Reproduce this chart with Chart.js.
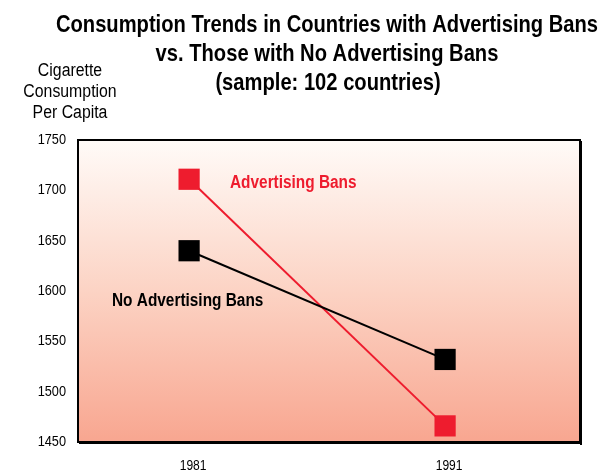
<!DOCTYPE html>
<html>
<head>
<meta charset="utf-8">
<script src="https://cdn.jsdelivr.net/npm/chart.js@4.4.1/dist/chart.umd.min.js"></script>
<style>
  html, body { margin: 0; padding: 0; background: #fff; }
  #wrap { width: 604px; height: 472px; }
</style>
</head>
<body>
<div id="wrap"><canvas id="consumptionChart" width="604" height="472"></canvas></div>
<script>
// --- data ---
const years = [1981, 1991];
const adBans = [1711, 1466];
const noAdBans = [1640, 1532];
const yTicks = [1450, 1500, 1550, 1600, 1650, 1700, 1750];

const fam = "'Liberation Sans', Arial, sans-serif";

// draws text squeezed horizontally (no condensed font installed)
function narrowText(ctx, text, x, y, font, align, sx) {
  ctx.save();
  ctx.font = font;
  ctx.textBaseline = "middle";
  ctx.textAlign = "left";
  const w = ctx.measureText(text).width * sx;
  let left = x;
  if (align === "center") left = x - w / 2;
  else if (align === "right") left = x - w;
  ctx.translate(left, y);
  ctx.scale(sx, 1);
  ctx.fillText(text, 0, 0);
  ctx.restore();
}

const plotBox = {
  id: "plotBox",
  beforeDatasetsDraw(chart) {
    const { ctx, chartArea: a } = chart;
    const g = ctx.createLinearGradient(0, a.top, 0, a.bottom);
    g.addColorStop(0, "#fffbf8");
    g.addColorStop(0.5, "#fcd3c4");
    g.addColorStop(1, "#f8a690");
    ctx.save();
    ctx.fillStyle = g;
    ctx.fillRect(a.left, a.top, a.right - a.left, a.bottom - a.top);
    // drop shadow on right / bottom
    ctx.fillStyle = "#000";
    ctx.fillRect(a.right, a.top + 1, 2, a.bottom - a.top + 2);
    ctx.fillRect(a.left + 1, a.bottom, a.right - a.left + 1, 2);
    ctx.strokeStyle = "#000";
    ctx.lineWidth = 2;
    ctx.strokeRect(a.left, a.top, a.right - a.left, a.bottom - a.top);
    ctx.restore();
  },
  afterDraw(chart) {
    const { ctx } = chart;
    const xs = chart.scales.x, ys = chart.scales.y;
    ctx.save();
    ctx.fillStyle = "#000";

    // tick labels, positioned by the chart's scales
    ys.ticks.forEach((t) => {
      narrowText(ctx, String(t.value), 66, ys.getPixelForValue(t.value), "15px " + fam, "right", 0.85);
    });
    xs.ticks.forEach((t) => {
      narrowText(ctx, String(t.value), xs.getPixelForValue(t.value) + 4, 466, "14px " + fam, "center", 0.86);
    });

    // title
    const tf = "bold 24px " + fam;
    narrowText(ctx, "Consumption Trends in Countries with Advertising Bans", 327, 25, tf, "center", 0.84);
    narrowText(ctx, "vs. Those with No Advertising Bans", 327, 54, tf, "center", 0.84);
    narrowText(ctx, "(sample: 102 countries)", 328, 83, tf, "center", 0.84);

    // y axis caption
    const cf = "18px " + fam;
    narrowText(ctx, "Cigarette", 70, 71, cf, "center", 0.88);
    narrowText(ctx, "Consumption", 70, 92, cf, "center", 0.88);
    narrowText(ctx, "Per Capita", 70, 113, cf, "center", 0.88);

    // series labels
    const lf = "bold 18px " + fam;
    ctx.fillStyle = "#ee1c2e";
    narrowText(ctx, "Advertising Bans", 230, 183, lf, "left", 0.855);
    ctx.fillStyle = "#000";
    narrowText(ctx, "No Advertising Bans", 112, 301, lf, "left", 0.855);
    ctx.restore();
  }
};

new Chart(document.getElementById("consumptionChart"), {
  type: "line",
  data: {
    datasets: [
      {
        label: "No Advertising Bans",
        data: years.map((y, i) => ({ x: y, y: noAdBans[i] })),
        borderColor: "#000",
        backgroundColor: "#000",
        borderWidth: 2,
        pointStyle: "rect",
        pointRadius: 15,
        pointBorderWidth: 0,
      },
      {
        label: "Advertising Bans",
        data: years.map((y, i) => ({ x: y, y: adBans[i] })),
        borderColor: "#ee1c2e",
        backgroundColor: "#ee1c2e",
        borderWidth: 2,
        pointStyle: "rect",
        pointRadius: 15,
        pointBorderWidth: 0,
      },
    ],
  },
  options: {
    responsive: false,
    animation: false,
    layout: { padding: { top: 140, right: 24, left: 0, bottom: 0 } },
    plugins: {
      legend: { display: false },
      tooltip: { enabled: false },
    },
    scales: {
      x: {
        type: "linear",
        min: 1976.66,
        max: 1996.27,
        grid: { display: false },
        border: { display: false },
        afterBuildTicks: (s) => { s.ticks = years.map((v) => ({ value: v })); },
        afterFit: (s) => { s.height = 30; },
        ticks: { display: false },
      },
      y: {
        min: 1450,
        max: 1750,
        grid: { display: false },
        border: { display: false },
        afterBuildTicks: (s) => { s.ticks = yTicks.map((v) => ({ value: v })); },
        afterFit: (s) => { s.width = 78; },
        ticks: { display: false },
      },
    },
  },
  plugins: [plotBox],
});
</script>
</body>
</html>
